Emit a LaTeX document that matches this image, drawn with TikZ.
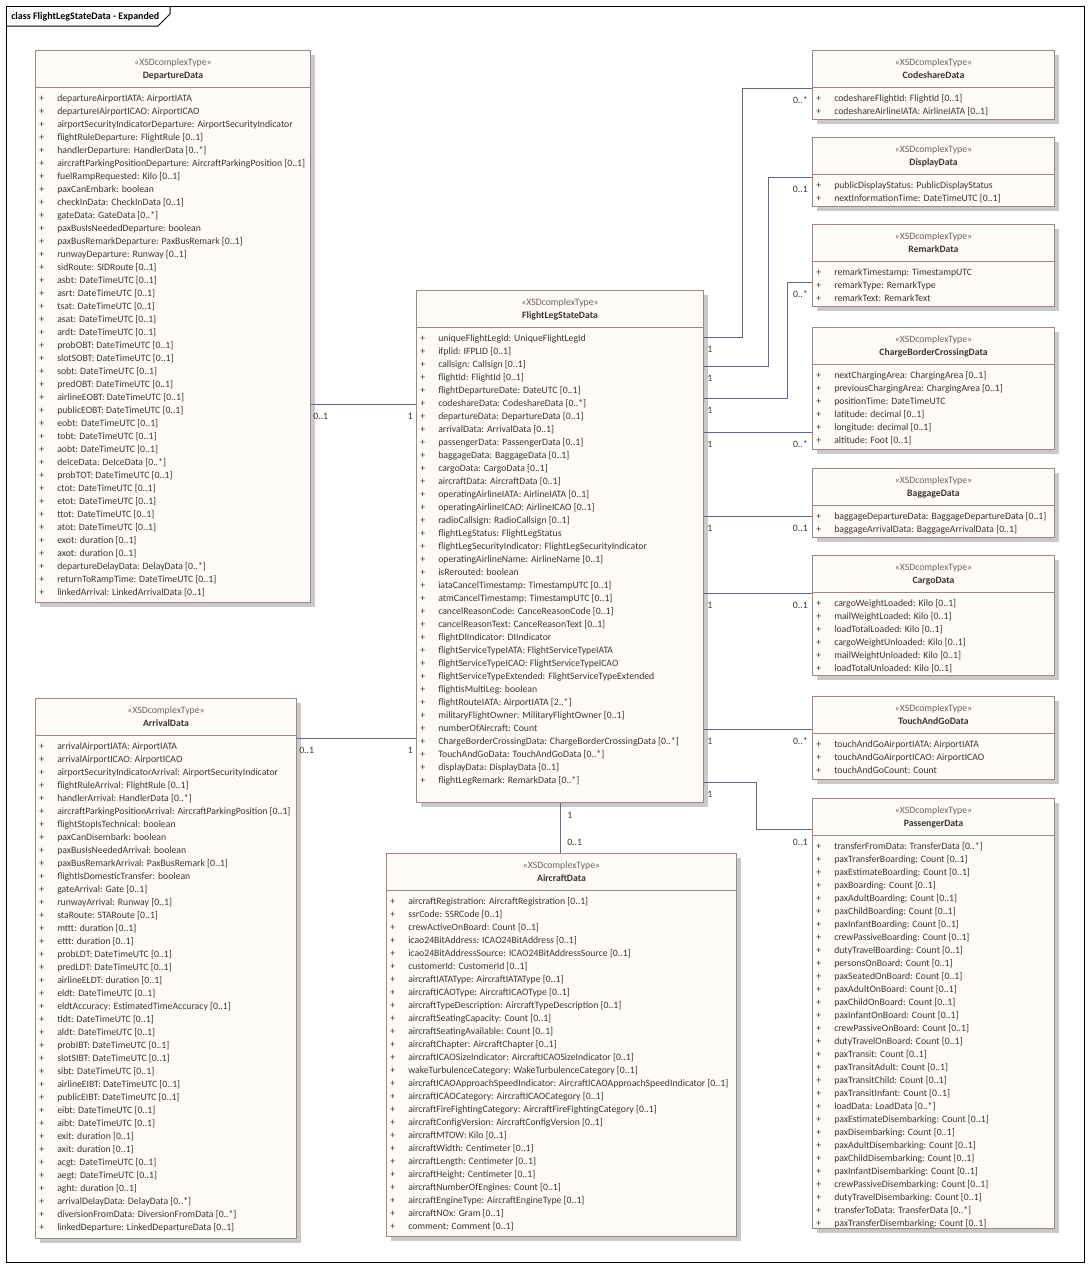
\documentclass[tikz,border=0pt]{standalone}
\usepackage{fontspec}
\setmainfont{Carlito}
\usepackage{xcolor}
\usepackage{tikz}
\usetikzlibrary{positioning,calc,matrix,shadows}

\definecolor{clsfill}{HTML}{FEFAF7}
\definecolor{clsline}{HTML}{9C8884}
\definecolor{clsshadow}{HTML}{C9C9C9}
\definecolor{attrtext}{HTML}{3A3533}
\definecolor{stereotext}{HTML}{6A6462}
\definecolor{linkcol}{HTML}{5F6784}

\begin{document}
\begin{tikzpicture}[x=0.75pt,y=-0.75pt,>=latex]
		
		\tikzset{
			clsbox/.style={draw=clsline, fill=clsfill, line width=0.75pt, anchor=north west, inner sep=0pt,
				drop shadow={shadow xshift=3pt, shadow yshift=-3pt, fill=clsshadow, opacity=1}},
			stereo/.style={anchor=base, inner sep=0pt, text=stereotext, font=\fontsize{7.3}{8}\selectfont},
			clsname/.style={anchor=base, inner sep=0pt, text=attrtext, font=\fontsize{7.3}{8}\selectfont\bfseries},
			sepline/.style={draw=clsline, line width=0.75pt},
			attrs/.style={
				matrix of nodes, anchor=north west, inner sep=0pt, row sep=0pt, column sep=0pt,
				nodes={anchor=base west, inner sep=0pt, text height=7.25pt, text depth=2.5pt,
					text=attrtext, font=\fontsize{7.3}{8}\selectfont},
				column 1/.style={nodes={text width=13.5pt}}
			},
			assoc/.style={draw=linkcol, line width=0.65pt},
			mult/.style={inner sep=0pt, text=attrtext, font=\fontsize{7.3}{8}\selectfont}
		}
		
		\useasboundingbox (0,0) rectangle (1090,1268);
		
		% ===== KHUNG NGOÀI =====
		\draw[line width=0.75pt] (6,6) rectangle (1084,1262);
		\draw[line width=0.75pt] (6,26) -- (158,26) -- (170,14) -- (170,6);
		\node[anchor=base west, inner sep=0pt, font=\fontsize{7.5}{8}\selectfont\bfseries] (title) at (11,19.5)
		{class FlightLegStateData - Expanded};
		
		% ===== DepartureData (TRÁI, TRÊN) =====
		\node[clsbox, minimum width=206.25pt, minimum height=414pt] (dep) at (35,50) {};
		\node[stereo] (dep-s) at ([yshift=-11.5pt]dep.north) {«XSDcomplexType»};
		\node[clsname] (dep-n) at ([yshift=-21.6pt]dep.north) {DepartureData};
		\draw[sepline] ([yshift=-27.75pt]dep.north west) -- ([yshift=-27.75pt]dep.north east);
		\matrix (dep-a) [attrs] at ([xshift=3pt,yshift=-31.3pt]dep.north west) {
			+ & departureAirportIATA: AirportIATA \\
			+ & departureIAirportICAO: AirportICAO \\
			+ & airportSecurityIndicatorDeparture: AirportSecurityIndicator \\
			+ & flightRuleDeparture: FlightRule [0..1] \\
			+ & handlerDeparture: HandlerData [0..*] \\
			+ & aircraftParkingPositionDeparture: AircraftParkingPosition [0..1] \\
			+ & fuelRampRequested: Kilo [0..1] \\
			+ & paxCanEmbark: boolean \\
			+ & checkInData: CheckInData [0..1] \\
			+ & gateData: GateData [0..*] \\
			+ & paxBusIsNeededDeparture: boolean \\
			+ & paxBusRemarkDeparture: PaxBusRemark [0..1] \\
			+ & runwayDeparture: Runway [0..1] \\
			+ & sidRoute: SIDRoute [0..1] \\
			+ & asbt: DateTimeUTC [0..1] \\
			+ & asrt: DateTimeUTC [0..1] \\
			+ & tsat: DateTimeUTC [0..1] \\
			+ & asat: DateTimeUTC [0..1] \\
			+ & ardt: DateTimeUTC [0..1] \\
			+ & probOBT: DateTimeUTC [0..1] \\
			+ & slotSOBT: DateTimeUTC [0..1] \\
			+ & sobt: DateTimeUTC [0..1] \\
			+ & predOBT: DateTimeUTC [0..1] \\
			+ & airlineEOBT: DateTimeUTC [0..1] \\
			+ & publicEOBT: DateTimeUTC [0..1] \\
			+ & eobt: DateTimeUTC [0..1] \\
			+ & tobt: DateTimeUTC [0..1] \\
			+ & aobt: DateTimeUTC [0..1] \\
			+ & deIceData: DeIceData [0..*] \\
			+ & probTOT: DateTimeUTC [0..1] \\
			+ & ctot: DateTimeUTC [0..1] \\
			+ & etot: DateTimeUTC [0..1] \\
			+ & ttot: DateTimeUTC [0..1] \\
			+ & atot: DateTimeUTC [0..1] \\
			+ & exot: duration [0..1] \\
			+ & axot: duration [0..1] \\
			+ & departureDelayData: DelayData [0..*] \\
			+ & returnToRampTime: DateTimeUTC [0..1] \\
			+ & linkedArrival: LinkedArrivalData [0..1] \\
		};
		
		% ===== ArrivalData (TRÁI, DƯỚI) =====
		\node[clsbox, minimum width=195.75pt, minimum height=405pt] (arr) at (35,698) {};
		\node[stereo] (arr-s) at ([yshift=-11.5pt]arr.north) {«XSDcomplexType»};
		\node[clsname] (arr-n) at ([yshift=-21.6pt]arr.north) {ArrivalData};
		\draw[sepline] ([yshift=-27.75pt]arr.north west) -- ([yshift=-27.75pt]arr.north east);
		\matrix (arr-a) [attrs] at ([xshift=3pt,yshift=-31.3pt]arr.north west) {
			+ & arrivalAirportIATA: AirportIATA \\
			+ & arrivalAirportICAO: AirportICAO \\
			+ & airportSecurityIndicatorArrival: AirportSecurityIndicator \\
			+ & flightRuleArrival: FlightRule [0..1] \\
			+ & handlerArrival: HandlerData [0..*] \\
			+ & aircraftParkingPositionArrival: AircraftParkingPosition [0..1] \\
			+ & flightStopIsTechnical: boolean \\
			+ & paxCanDisembark: boolean \\
			+ & paxBusIsNeededArrival: boolean \\
			+ & paxBusRemarkArrival: PaxBusRemark [0..1] \\
			+ & flightIsDomesticTransfer: boolean \\
			+ & gateArrival: Gate [0..1] \\
			+ & runwayArrival: Runway [0..1] \\
			+ & staRoute: STARoute [0..1] \\
			+ & mttt: duration [0..1] \\
			+ & ettt: duration [0..1] \\
			+ & probLDT: DateTimeUTC [0..1] \\
			+ & predLDT: DateTimeUTC [0..1] \\
			+ & airlineELDT: duration [0..1] \\
			+ & eldt: DateTimeUTC [0..1] \\
			+ & eldtAccuracy: EstimatedTimeAccuracy [0..1] \\
			+ & tldt: DateTimeUTC [0..1] \\
			+ & aldt: DateTimeUTC [0..1] \\
			+ & probIBT: DateTimeUTC [0..1] \\
			+ & slotSIBT: DateTimeUTC [0..1] \\
			+ & sibt: DateTimeUTC [0..1] \\
			+ & airlineEIBT: DateTimeUTC [0..1] \\
			+ & publicEIBT: DateTimeUTC [0..1] \\
			+ & eibt: DateTimeUTC [0..1] \\
			+ & aibt: DateTimeUTC [0..1] \\
			+ & exit: duration [0..1] \\
			+ & axit: duration [0..1] \\
			+ & acgt: DateTimeUTC [0..1] \\
			+ & aegt: DateTimeUTC [0..1] \\
			+ & aght: duration [0..1] \\
			+ & arrivalDelayData: DelayData [0..*] \\
			+ & diversionFromData: DiversionFromData [0..*] \\
			+ & linkedDeparture: LinkedDepartureData [0..1] \\
		};
		
		% ===== FlightLegStateData (GIỮA) =====
		\node[clsbox, minimum width=215.25pt, minimum height=384pt] (flsd) at (416,290) {};
		\node[stereo] (flsd-s) at ([yshift=-11.5pt]flsd.north) {«XSDcomplexType»};
		\node[clsname] (flsd-n) at ([yshift=-21.6pt]flsd.north) {FlightLegStateData};
		\draw[sepline] ([yshift=-27.75pt]flsd.north west) -- ([yshift=-27.75pt]flsd.north east);
		\matrix (flsd-a) [attrs] at ([xshift=3pt,yshift=-31.3pt]flsd.north west) {
			+ & uniqueFlightLegId: UniqueFlightLegId \\
			+ & ifplid: IFPLID [0..1] \\
			+ & callsign: Callsign [0..1] \\
			+ & flightId: FlightId [0..1] \\
			+ & flightDepartureDate: DateUTC [0..1] \\
			+ & codeshareData: CodeshareData [0..*] \\
			+ & departureData: DepartureData [0..1] \\
			+ & arrivalData: ArrivalData [0..1] \\
			+ & passengerData: PassengerData [0..1] \\
			+ & baggageData: BaggageData [0..1] \\
			+ & cargoData: CargoData [0..1] \\
			+ & aircraftData: AircraftData [0..1] \\
			+ & operatingAirlineIATA: AirlineIATA [0..1] \\
			+ & operatingAirlineICAO: AirlineICAO [0..1] \\
			+ & radioCallsign: RadioCallsign [0..1] \\
			+ & flightLegStatus: FlightLegStatus \\
			+ & flightLegSecurityIndicator: FlightLegSecurityIndicator \\
			+ & operatingAirlineName: AirlineName [0..1] \\
			+ & isRerouted: boolean \\
			+ & iataCancelTimestamp: TimestampUTC [0..1] \\
			+ & atmCancelTimestamp: TimestampUTC [0..1] \\
			+ & cancelReasonCode: CanceReasonCode [0..1] \\
			+ & cancelReasonText: CanceReasonText [0..1] \\
			+ & flightDIIndicator: DIIndicator \\
			+ & flightServiceTypeIATA: FlightServiceTypeIATA \\
			+ & flightServiceTypeICAO: FlightServiceTypeICAO \\
			+ & flightServiceTypeExtended: FlightServiceTypeExtended \\
			+ & flightIsMultiLeg: boolean \\
			+ & flightRouteIATA: AirportIATA [2..*] \\
			+ & militaryFlightOwner: MilitaryFlightOwner [0..1] \\
			+ & numberOfAircraft: Count \\
			+ & ChargeBorderCrossingData: ChargeBorderCrossingData [0..*] \\
			+ & TouchAndGoData: TouchAndGoData [0..*] \\
			+ & displayData: DisplayData [0..1] \\
			+ & flightLegRemark: RemarkData [0..*] \\
		};
		
		% ===== AircraftData (GIỮA, DƯỚI) =====
		\node[clsbox, minimum width=262.5pt, minimum height=287.25pt] (acft) at (386,853) {};
		\node[stereo] (acft-s) at ([yshift=-11.5pt]acft.north) {«XSDcomplexType»};
		\node[clsname] (acft-n) at ([yshift=-21.6pt]acft.north) {AircraftData};
		\draw[sepline] ([yshift=-27.75pt]acft.north west) -- ([yshift=-27.75pt]acft.north east);
		\matrix (acft-a) [attrs] at ([xshift=3pt,yshift=-31.3pt]acft.north west) {
			+ & aircraftRegistration: AircraftRegistration [0..1] \\
			+ & ssrCode: SSRCode [0..1] \\
			+ & crewActiveOnBoard: Count [0..1] \\
			+ & icao24BitAddress: ICAO24BitAddress [0..1] \\
			+ & icao24BitAddressSource: ICAO24BitAddressSource [0..1] \\
			+ & customerId: CustomerId [0..1] \\
			+ & aircraftIATAType: AircraftIATAType [0..1] \\
			+ & aircraftICAOType: AircraftICAOType [0..1] \\
			+ & aircraftTypeDescription: AircraftTypeDescription [0..1] \\
			+ & aircraftSeatingCapacity: Count [0..1] \\
			+ & aircraftSeatingAvailable: Count [0..1] \\
			+ & aircraftChapter: AircraftChapter [0..1] \\
			+ & aircraftICAOSizeIndicator: AircraftICAOSizeIndicator [0..1] \\
			+ & wakeTurbulenceCategory: WakeTurbulenceCategory [0..1] \\
			+ & aircraftICAOApproachSpeedIndicator: AircraftICAOApproachSpeedIndicator [0..1] \\
			+ & aircraftICAOCategory: AircraftICAOCategory [0..1] \\
			+ & aircraftFireFightingCategory: AircraftFireFightingCategory [0..1] \\
			+ & aircraftConfigVersion: AircraftConfigVersion [0..1] \\
			+ & aircraftMTOW: Kilo [0..1] \\
			+ & aircraftWidth: Centimeter [0..1] \\
			+ & aircraftLength: Centimeter [0..1] \\
			+ & aircraftHeight: Centimeter [0..1] \\
			+ & aircraftNumberOfEngines: Count [0..1] \\
			+ & aircraftEngineType: AircraftEngineType [0..1] \\
			+ & aircraftNOx: Gram [0..1] \\
			+ & comment: Comment [0..1] \\
		};
		
		% ===== CỘT PHẢI =====
		\node[clsbox, minimum width=181.5pt, minimum height=51.75pt] (code) at (812,50) {};
		\node[stereo] (code-s) at ([yshift=-11.5pt]code.north) {«XSDcomplexType»};
		\node[clsname] (code-n) at ([yshift=-21.6pt]code.north) {CodeshareData};
		\draw[sepline] ([yshift=-27.75pt]code.north west) -- ([yshift=-27.75pt]code.north east);
		\matrix (code-a) [attrs] at ([xshift=3pt,yshift=-31.3pt]code.north west) {
			+ & codeshareFlightId: FlightId [0..1] \\
			+ & codeshareAirlineIATA: AirlineIATA [0..1] \\
		};
		
		\node[clsbox, minimum width=181.5pt, minimum height=51.75pt] (disp) at (812,137) {};
		\node[stereo] (disp-s) at ([yshift=-11.5pt]disp.north) {«XSDcomplexType»};
		\node[clsname] (disp-n) at ([yshift=-21.6pt]disp.north) {DisplayData};
		\draw[sepline] ([yshift=-27.75pt]disp.north west) -- ([yshift=-27.75pt]disp.north east);
		\matrix (disp-a) [attrs] at ([xshift=3pt,yshift=-31.3pt]disp.north west) {
			+ & publicDisplayStatus: PublicDisplayStatus \\
			+ & nextInformationTime: DateTimeUTC [0..1] \\
		};
		
		\node[clsbox, minimum width=181.5pt, minimum height=61.5pt] (rmk) at (812,224) {};
		\node[stereo] (rmk-s) at ([yshift=-11.5pt]rmk.north) {«XSDcomplexType»};
		\node[clsname] (rmk-n) at ([yshift=-21.6pt]rmk.north) {RemarkData};
		\draw[sepline] ([yshift=-27.75pt]rmk.north west) -- ([yshift=-27.75pt]rmk.north east);
		\matrix (rmk-a) [attrs] at ([xshift=3pt,yshift=-31.3pt]rmk.north west) {
			+ & remarkTimestamp: TimestampUTC \\
			+ & remarkType: RemarkType \\
			+ & remarkText: RemarkText \\
		};
		
		\node[clsbox, minimum width=181.5pt, minimum height=91.5pt] (cbc) at (812,327) {};
		\node[stereo] (cbc-s) at ([yshift=-11.5pt]cbc.north) {«XSDcomplexType»};
		\node[clsname] (cbc-n) at ([yshift=-21.6pt]cbc.north) {ChargeBorderCrossingData};
		\draw[sepline] ([yshift=-27.75pt]cbc.north west) -- ([yshift=-27.75pt]cbc.north east);
		\matrix (cbc-a) [attrs] at ([xshift=3pt,yshift=-31.3pt]cbc.north west) {
			+ & nextChargingArea: ChargingArea [0..1] \\
			+ & previousChargingArea: ChargingArea [0..1] \\
			+ & positionTime: DateTimeUTC \\
			+ & latitude: decimal [0..1] \\
			+ & longitude: decimal [0..1] \\
			+ & altitude: Foot [0..1] \\
		};
		
		\node[clsbox, minimum width=181.5pt, minimum height=51.75pt] (bag) at (812,468) {};
		\node[stereo] (bag-s) at ([yshift=-11.5pt]bag.north) {«XSDcomplexType»};
		\node[clsname] (bag-n) at ([yshift=-21.6pt]bag.north) {BaggageData};
		\draw[sepline] ([yshift=-27.75pt]bag.north west) -- ([yshift=-27.75pt]bag.north east);
		\matrix (bag-a) [attrs] at ([xshift=3pt,yshift=-31.3pt]bag.north west) {
			+ & baggageDepartureData: BaggageDepartureData [0..1] \\
			+ & baggageArrivalData: BaggageArrivalData [0..1] \\
		};
		
		\node[clsbox, minimum width=181.5pt, minimum height=90pt] (cargo) at (812,555) {};
		\node[stereo] (cargo-s) at ([yshift=-11.5pt]cargo.north) {«XSDcomplexType»};
		\node[clsname] (cargo-n) at ([yshift=-21.6pt]cargo.north) {CargoData};
		\draw[sepline] ([yshift=-27.75pt]cargo.north west) -- ([yshift=-27.75pt]cargo.north east);
		\matrix (cargo-a) [attrs] at ([xshift=3pt,yshift=-31.3pt]cargo.north west) {
			+ & cargoWeightLoaded: Kilo [0..1] \\
			+ & mailWeightLoaded: Kilo [0..1] \\
			+ & loadTotalLoaded: Kilo [0..1] \\
			+ & cargoWeightUnloaded: Kilo [0..1] \\
			+ & mailWeightUnloaded: Kilo [0..1] \\
			+ & loadTotalUnloaded: Kilo [0..1] \\
		};
		
		\node[clsbox, minimum width=181.5pt, minimum height=62.25pt] (tag) at (812,696) {};
		\node[stereo] (tag-s) at ([yshift=-11.5pt]tag.north) {«XSDcomplexType»};
		\node[clsname] (tag-n) at ([yshift=-21.6pt]tag.north) {TouchAndGoData};
		\draw[sepline] ([yshift=-27.75pt]tag.north west) -- ([yshift=-27.75pt]tag.north east);
		\matrix (tag-a) [attrs] at ([xshift=3pt,yshift=-31.3pt]tag.north west) {
			+ & touchAndGoAirportIATA: AirportIATA \\
			+ & touchAndGoAirportICAO: AirportICAO \\
			+ & touchAndGoCount: Count \\
		};
		
		\node[clsbox, minimum width=181.5pt, minimum height=322.5pt] (pax) at (812,798) {};
		\node[stereo] (pax-s) at ([yshift=-11.5pt]pax.north) {«XSDcomplexType»};
		\node[clsname] (pax-n) at ([yshift=-21.6pt]pax.north) {PassengerData};
		\draw[sepline] ([yshift=-27.75pt]pax.north west) -- ([yshift=-27.75pt]pax.north east);
		\matrix (pax-a) [attrs] at ([xshift=3pt,yshift=-31.3pt]pax.north west) {
			+ & transferFromData: TransferData [0..*] \\
			+ & paxTransferBoarding: Count [0..1] \\
			+ & paxEstimateBoarding: Count [0..1] \\
			+ & paxBoarding: Count [0..1] \\
			+ & paxAdultBoarding: Count [0..1] \\
			+ & paxChildBoarding: Count [0..1] \\
			+ & paxInfantBoarding: Count [0..1] \\
			+ & crewPassiveBoarding: Count [0..1] \\
			+ & dutyTravelBoarding: Count [0..1] \\
			+ & personsOnBoard: Count [0..1] \\
			+ & paxSeatedOnBoard: Count [0..1] \\
			+ & paxAdultOnBoard: Count [0..1] \\
			+ & paxChildOnBoard: Count [0..1] \\
			+ & paxInfantOnBoard: Count [0..1] \\
			+ & crewPassiveOnBoard: Count [0..1] \\
			+ & dutyTravelOnBoard: Count [0..1] \\
			+ & paxTransit: Count [0..1] \\
			+ & paxTransitAdult: Count [0..1] \\
			+ & paxTransitChild: Count [0..1] \\
			+ & paxTransitInfant: Count [0..1] \\
			+ & loadData: LoadData [0..*] \\
			+ & paxEstimateDisembarking: Count [0..1] \\
			+ & paxDisembarking: Count [0..1] \\
			+ & paxAdultDisembarking: Count [0..1] \\
			+ & paxChildDisembarking: Count [0..1] \\
			+ & paxInfantDisembarking: Count [0..1] \\
			+ & crewPassiveDisembarking: Count [0..1] \\
			+ & dutyTravelDisembarking: Count [0..1] \\
			+ & transferToData: TransferData [0..*] \\
			+ & paxTransferDisembarking: Count [0..1] \\
		};
		
		% ===== LIÊN KẾT (ASSOCIATION) =====
		\coordinate (h1) at (0,404);
		\draw[assoc] (dep.east |- h1) -- (flsd.west |- h1);
		\node[mult, anchor=base west] (m1a) at (313,419) {0..1};
		\node[mult, anchor=base east] (m1b) at (413,419) {1};
		
		\coordinate (h2) at (0,738);
		\draw[assoc] (arr.east |- h2) -- (flsd.west |- h2);
		\node[mult, anchor=base west] (m2a) at (299,753) {0..1};
		\node[mult, anchor=base east] (m2b) at (413,753) {1};
		
		\coordinate (v3) at (560,0);
		\draw[assoc] (flsd.south -| v3) -- (acft.north -| v3);
		\node[mult, anchor=base west] (m3a) at (567,818) {1};
		\node[mult, anchor=base west] (m3b) at (567,845) {0..1};
		
		\coordinate (h4) at (742,337); \coordinate (p4) at (742,88);
		\draw[assoc] (flsd.east |- h4) -- (h4) -- (p4) -- (code.west |- p4);
		\node[mult, anchor=base west] (m4a) at (707,352) {1};
		\node[mult, anchor=base east] (m4b) at (808,103) {0..*};
		
		\coordinate (h5) at (768,366); \coordinate (p5) at (768,177);
		\draw[assoc] (flsd.east |- h5) -- (h5) -- (p5) -- (disp.west |- p5);
		\node[mult, anchor=base west] (m5a) at (707,381) {1};
		\node[mult, anchor=base east] (m5b) at (808,192) {0..1};
		
		\coordinate (h6) at (787,398); \coordinate (p6) at (787,282);
		\draw[assoc] (flsd.east |- h6) -- (h6) -- (p6) -- (rmk.west |- p6);
		\node[mult, anchor=base west] (m6a) at (707,413) {1};
		\node[mult, anchor=base east] (m6b) at (808,297) {0..*};
		
		\coordinate (h7) at (0,432);
		\draw[assoc] (flsd.east |- h7) -- (cbc.west |- h7);
		\node[mult, anchor=base west] (m7a) at (707,447) {1};
		\node[mult, anchor=base east] (m7b) at (808,447) {0..*};
		
		\coordinate (h8) at (0,516);
		\draw[assoc] (flsd.east |- h8) -- (bag.west |- h8);
		\node[mult, anchor=base west] (m8a) at (707,531) {1};
		\node[mult, anchor=base east] (m8b) at (808,531) {0..1};
		
		\coordinate (h9) at (0,593);
		\draw[assoc] (flsd.east |- h9) -- (cargo.west |- h9);
		\node[mult, anchor=base west] (m9a) at (707,608) {1};
		\node[mult, anchor=base east] (m9b) at (808,608) {0..1};
		
		\coordinate (h10) at (0,729);
		\draw[assoc] (flsd.east |- h10) -- (tag.west |- h10);
		\node[mult, anchor=base west] (m10a) at (707,744) {1};
		\node[mult, anchor=base east] (m10b) at (808,744) {0..*};
		
		\coordinate (h11) at (756,782); \coordinate (p11) at (756,829);
		\draw[assoc] (flsd.east |- h11) -- (h11) -- (p11) -- (pax.west |- p11);
		\node[mult, anchor=base west] (m11a) at (707,797) {1};
		\node[mult, anchor=base east] (m11b) at (808,845) {0..1};
		
	\end{tikzpicture}
\end{document}
